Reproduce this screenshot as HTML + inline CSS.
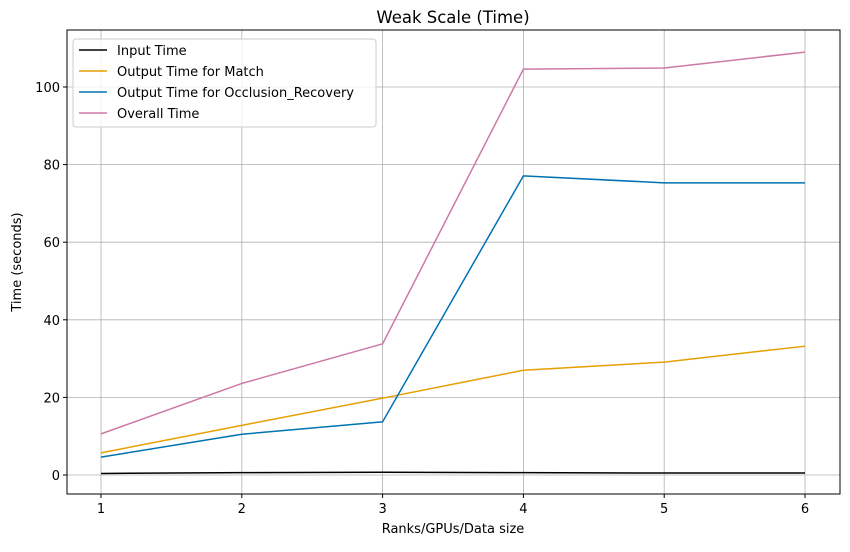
<!DOCTYPE html>
<html><head><meta charset="utf-8"><style>
body{margin:0;background:#fff;}
svg{font-family:"DejaVu Sans","Liberation Sans",sans-serif;}
</style></head><body>
<svg id="chart" width="850" height="547" xmlns="http://www.w3.org/2000/svg">
<text x="453" y="23" text-anchor="middle" font-size="16.5">Weak Scale (Time)</text>
<g id="grid"></g>
<g id="series"></g>
<rect x="67" y="30" width="773" height="464" fill="none" stroke="#000" stroke-width="1"/>
<g id="ticks" font-size="13"></g>
<text x="453" y="533" text-anchor="middle" font-size="13">Ranks/GPUs/Data size</text>
<text transform="translate(21,262) rotate(-90)" text-anchor="middle" font-size="13">Time (seconds)</text>
<g id="legend"></g>
</svg>
<script>
const categories=[1,2,3,4,5,6];
const inputTime=[0.4,0.6,0.7,0.6,0.5,0.5];
const matchTime=[5.7,12.8,19.8,27.0,29.1,33.2];
const occlusionTime=[4.6,10.5,13.7,77.1,75.3,75.3];
const overallTime=[10.6,23.6,33.8,104.6,104.9,109.0];
const yTicks=[0,20,40,60,80,100];
const seriesNames=["Input Time","Output Time for Match","Output Time for Occlusion_Recovery","Overall Time"];
const seriesColors=["#000000","#e69f00","#0072b2","#cc79a7"];
const NS="http://www.w3.org/2000/svg";
const X=v=>101+(v-1)*(805-101)/5;
const Y=v=>475-v*3.88;
function mk(t,a,p){const e=document.createElementNS(NS,t);for(const k in a)e.setAttribute(k,a[k]);p.appendChild(e);return e;}
const grid=document.getElementById('grid'),ticks=document.getElementById('ticks');
categories.forEach(c=>{
 const l=mk('line',{x1:X(c),x2:X(c),y1:30,y2:494,stroke:'#b0b0b0','stroke-width':0.8},grid);
 
 
 const tk=mk('line',{x1:X(c),x2:X(c),y1:494,y2:498,stroke:'#000'},ticks);
 
 
 const t=mk('text',{x:X(c),y:513,'text-anchor':'middle'},ticks);t.textContent=c;
 
 
});
yTicks.forEach(v=>{
 const l=mk('line',{x1:67,x2:840,y1:Y(v),y2:Y(v),stroke:'#b0b0b0','stroke-width':0.8},grid);
 
 
 const tk=mk('line',{x1:63,x2:67,y1:Y(v),y2:Y(v),stroke:'#000'},ticks);
 
 
 const t=mk('text',{x:60,y:Y(v)+5,'text-anchor':'end'},ticks);t.textContent=v;
 
 
});
const all=[inputTime,matchTime,occlusionTime,overallTime];
const sg=document.getElementById('series');
all.forEach((s,i)=>{
 const p=mk('polyline',{points:s.map((v,j)=>X(categories[j])+','+Y(v)).join(' '),fill:'none',stroke:seriesColors[i],'stroke-width':1.5},sg);
 
 
});
const lg=document.getElementById('legend');
const box=mk('rect',{x:73,y:39,width:303,height:88,rx:3,fill:'#fff','fill-opacity':0.8,stroke:'#ccc'},lg);


seriesNames.forEach((n,i)=>{
 const y=50+i*21;
 const l=mk('line',{x1:79,x2:107,y1:y,y2:y,stroke:seriesColors[i],'stroke-width':1.5},lg);
 
 
 const t=mk('text',{x:117,y:y+5,'font-size':13},lg);t.textContent=n;
 
 
});
</script>
</body></html>
